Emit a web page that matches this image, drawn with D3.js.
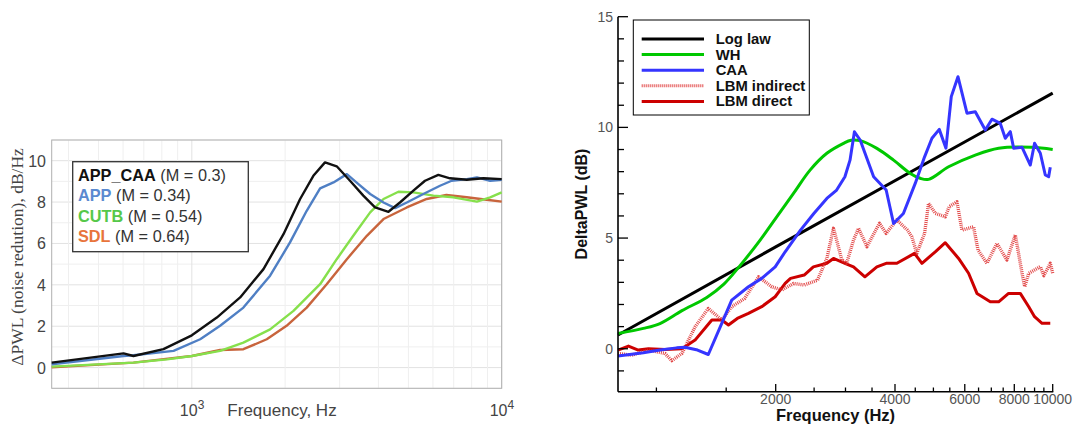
<!DOCTYPE html>
<html><head><meta charset="utf-8">
<script src="https://cdn.jsdelivr.net/npm/d3@7"></script>
<style>body{margin:0;background:#fff}svg{display:block}</style>
</head><body><svg id="c" width="1075" height="425"></svg>
<script>
// ---------- LEFT PANEL DATA ----------
const leftNames = ["APP_CAA", "APP", "CUTB", "SDL"];
const leftMach = ["(M = 0.3)", "(M = 0.34)", "(M = 0.54)", "(M = 0.64)"];
const appCaa = [[353,0.24],[602,0.69],[648,0.56],[810,0.89],[1000,1.56],[1204,2.42],[1432,3.39],[1703,4.76],[1976,6.45],[2236,8.15],[2467,9.27],[2690,9.92],[2935,9.73],[3240,9.03],[3576,8.31],[3902,7.74],[4310,7.53],[4695,7.98],[5188,8.55],[5656,9.03],[6245,9.31],[6810,9.15],[7714,9.08],[8733,9.15],[10000,9.11]];
const app = [[353,0.16],[602,0.56],[648,0.6],[873,0.81],[1064,1.37],[1234,2.02],[1467,2.9],[1789,4.44],[2074,6.05],[2348,7.58],[2594,8.66],[2865,8.95],[3164,9.35],[3449,8.87],[3763,8.39],[4155,7.98],[4530,7.71],[4940,7.98],[5587,8.39],[6323,8.79],[6894,9.03],[7714,9.11],[8316,9.19],[9179,9.03],[10000,9.08]];
const cutb = [[353,0.05],[648,0.24],[831,0.4],[1000,0.56],[1234,0.81],[1467,1.21],[1789,1.85],[2128,2.74],[2594,4.03],[2935,5.24],[3319,6.37],[3763,7.5],[4155,8.15],[4643,8.5],[5188,8.47],[6019,8.31],[6980,8.23],[8316,8.02],[9179,8.23],[10000,8.47]];
const sdl = [[353,0.02],[648,0.24],[1000,0.56],[1234,0.85],[1467,0.89],[1745,1.37],[2022,2.02],[2348,2.9],[2724,4.03],[3164,5.24],[3671,6.37],[4155,7.18],[4940,7.74],[5728,8.15],[6629,8.34],[7714,8.23],[8940,8.11],[10000,8.02]];
const leftYTicks = [0, 2, 4, 6, 8, 10];
const leftXTicks = [1000, 10000];

// ---------- RIGHT PANEL DATA ----------
const rightNames = ["Log law", "WH", "CAA", "LBM indirect", "LBM direct"];
const logLaw = [[800,0.62],[2000,4.6],[10000,11.55]];
const wh = [[800,0.69],[927,0.92],[1021,1.14],[1160,1.72],[1340,2.32],[1480,2.92],[1620,3.72],[1827,4.91],[2012,5.96],[2218,7.02],[2442,8.07],[2692,8.83],[2966,9.28],[3100,9.42],[3267,9.4],[3600,9.05],[3967,8.52],[4371,7.92],[4630,7.7],[4861,7.65],[5462,8.22],[6378,8.75],[7305,9.06],[8866,9.1],[10000,9.0]];
const caa = [[800,-0.33],[927,-0.18],[1021,-0.06],[1125,0.04],[1180,0.07],[1270,-0.06],[1352,-0.26],[1462,1.15],[1549,2.2],[1707,2.8],[1844,3.18],[1994,3.7],[2113,4.38],[2310,5.36],[2496,6.11],[2692,6.79],[2850,7.17],[2990,7.77],[3080,8.52],[3160,9.8],[3267,9.43],[3533,7.77],[3800,7.17],[3967,5.66],[4200,6.11],[4499,7.47],[4750,8.67],[4958,9.51],[5173,9.91],[5378,9.06],[5547,11.39],[5767,12.29],[6077,10.64],[6378,10.71],[6759,9.88],[7026,10.37],[7375,10.18],[7592,9.51],[7816,9.81],[7970,9.06],[8370,9.1],[8780,8.3],[9000,9.28],[9306,8.83],[9578,7.85],[9768,7.77],[9860,8.2]];
const lbmIndirect = [[800,-0.21],[866,-0.29],[955,-0.06],[1051,-0.21],[1093,-0.54],[1160,-0.21],[1252,0.99],[1352,1.82],[1462,1.3],[1549,1.9],[1670,2.27],[1810,3.25],[1955,2.8],[2073,2.65],[2218,2.95],[2360,2.88],[2550,3.1],[2692,4.08],[2798,5.44],[2937,4.01],[3020,3.86],[3143,4.91],[3237,5.44],[3398,4.61],[3656,5.67],[3800,5.21],[4043,5.82],[4300,5.36],[4411,5.06],[4540,4.31],[4750,5.21],[4861,6.57],[5054,6.12],[5357,5.96],[5480,6.42],[5733,6.64],[5903,5.36],[6313,5.51],[6480,4.46],[6824,3.86],[7233,4.76],[7665,4.01],[8046,5.14],[8370,3.41],[8500,2.8],[8700,3.41],[9306,3.71],[9500,3.3],[9860,3.86],[10000,3.41]];
const lbmDirect = [[800,-0.06],[850,0.12],[900,-0.06],[955,0.0],[1051,-0.03],[1160,0.0],[1252,0.39],[1380,1.3],[1462,1.3],[1520,1.07],[1600,1.37],[1707,1.6],[1844,1.9],[1994,2.35],[2113,2.95],[2180,3.18],[2360,3.33],[2489,3.7],[2692,3.86],[2798,4.08],[2990,3.86],[3143,3.7],[3358,3.25],[3600,3.7],[3800,3.86],[4043,3.86],[4480,4.31],[4678,3.86],[5054,4.38],[5357,4.79],[5788,4.08],[6134,3.41],[6440,2.5],[6958,2.12],[7305,2.12],[7738,2.5],[8283,2.5],[8700,1.9],[9000,1.45],[9400,1.15],[9860,1.15]];
const rightYTicks = [0, 5, 10, 15];
const rightXTicks = [2000, 4000, 6000, 8000, 10000];

// ---------- DRAW ----------
const svg = d3.select("#c");
const sans = "Arial, 'Liberation Sans', Helvetica, sans-serif";

// LEFT
const xL = d3.scaleLog().domain([353, 10000]).range([51.7, 501.7]);
const yL = d3.scaleLinear().domain([-1, 11]).range([388.3, 140]);
const gL = svg.append("g");
gL.append("rect").attr("x", 51.7).attr("y", 140).attr("width", 450).attr("height", 248.3).attr("fill", "#fff");
const gridY = d3.range(-1, 12, 1);
gL.selectAll(".gy").data(gridY).join("line")
  .attr("x1", 51.7).attr("x2", 501.7).attr("y1", d => yL(d)).attr("y2", d => yL(d))
  .attr("stroke", d => d % 2 === 0 ? "#e2e2e2" : "#efefef").attr("stroke-width", 1);
const gridX = d3.range(400, 1000, 100).concat(d3.range(1000, 10001, 1000));
gL.selectAll(".gx").data(gridX).join("line")
  .attr("x1", d => xL(d)).attr("x2", d => xL(d)).attr("y1", 140).attr("y2", 388.3)
  .attr("stroke", d => (d === 1000 || d === 10000) ? "#e2e2e2" : "#efefef").attr("stroke-width", 1);
gL.append("rect").attr("x", 51.7).attr("y", 140).attr("width", 450).attr("height", 248.3)
  .attr("fill", "none").attr("stroke", "#b0b0b0").attr("stroke-width", 1);

const lineL = d3.line().x(d => xL(d[0])).y(d => yL(d[1]));
const leftSeries = [appCaa, app, cutb, sdl];
const leftColors = ["#111111", "#4f7fc4", "#86e04c", "#c8643c"];
const leftText = ["#111111", "#5b8ad0", "#55c84a", "#e8743c"];
[3, 2, 1, 0].forEach(i => {
  gL.append("path").attr("d", lineL(leftSeries[i])).attr("fill", "none")
    .attr("stroke", leftColors[i]).attr("stroke-width", 2.4).attr("stroke-linejoin", "round");
});
gL.selectAll(".ytl").data(leftYTicks).join("text")
  .attr("x", 46).attr("y", d => yL(d) + 6).attr("text-anchor", "end")
  .attr("font-family", sans).attr("font-size", 16).attr("fill", "#444").text(d => d);
leftXTicks.forEach(t => {
  const tx = gL.append("text").attr("x", xL(t) - 12).attr("y", 416)
    .attr("font-family", sans).attr("font-size", 16).attr("fill", "#444");
  tx.append("tspan").text("10");
  tx.append("tspan").attr("dy", -7).attr("font-size", 12).text(String(Math.round(Math.log10(t))));
});
gL.append("text").attr("x", 282).attr("y", 416).attr("text-anchor", "middle")
  .attr("font-family", sans).attr("font-size", 17).attr("fill", "#444").text("Frequency, Hz");
gL.append("text").attr("transform", "translate(23,257) rotate(-90)").attr("text-anchor", "middle")
  .attr("font-family", "'Liberation Serif', 'DejaVu Serif', serif").attr("font-size", 17.5).attr("fill", "#444")
  .text("ΔPWL (noise redution), dB/Hz");
// left legend
gL.append("rect").attr("x", 72.7).attr("y", 161.7).attr("width", 175.6).attr("height", 90)
  .attr("fill", "#fff").attr("stroke", "#333").attr("stroke-width", 1.3);
leftNames.forEach((n, i) => {
  const t = gL.append("text").attr("x", 78).attr("y", 180.5 + i * 20.5)
    .attr("font-family", sans).attr("font-size", 16.3);
  t.append("tspan").attr("font-weight", "bold").attr("fill", leftText[i]).text(n);
  t.append("tspan").attr("fill", "#333").text(" " + leftMach[i]);
});

// RIGHT
const xR = d3.scaleLog().domain([800, 10000]).range([618, 1052.7]);
const yR = d3.scaleLinear().domain([-1.94, 15]).range([391.7, 16.7]);
const gR = svg.append("g");
const lineR = d3.line().x(d => xR(d[0])).y(d => yR(d[1]));
const lineRs = d3.line().x(d => xR(d[0])).y(d => yR(d[1])).curve(d3.curveCatmullRom);
const rightColors = ["#000000", "#00c800", "#3535ff", "#dd2a2a", "#cc0000"];
const rightSeries = [logLaw, wh, caa, lbmIndirect, lbmDirect];
const dashes = [null, null, null, "1,1", null];
const draw = [0, 1, 4, 3, 2];
draw.forEach(i => {
  gR.append("path").attr("d", (i === 1 ? lineRs : lineR)(rightSeries[i])).attr("fill", "none")
    .attr("stroke", rightColors[i]).attr("stroke-width", i === 3 ? 3.4 : 3)
    .attr("stroke-opacity", i === 3 ? 0.85 : 1)
    .attr("stroke-dasharray", dashes[i]).attr("stroke-linejoin", "round");
});
// axes
gR.append("line").attr("x1", 618).attr("x2", 618).attr("y1", 16.7).attr("y2", 391.7).attr("stroke", "#000").attr("stroke-width", 1.6);
gR.append("line").attr("x1", 618).attr("x2", 1053.3).attr("y1", 391.7).attr("y2", 391.7).attr("stroke", "#000").attr("stroke-width", 1.6);
const yMinor = d3.range(-1, 16, 1);
gR.selectAll(".ymt").data(yMinor).join("line")
  .attr("x1", 618).attr("x2", d => rightYTicks.includes(d) ? 628 : 624)
  .attr("y1", d => yR(d)).attr("y2", d => yR(d)).attr("stroke", "#000").attr("stroke-width", 1.3);
const xMinor = d3.range(1000, 10001, 500);
gR.selectAll(".xmt").data(xMinor).join("line")
  .attr("x1", d => xR(d)).attr("x2", d => xR(d))
  .attr("y1", 391.7).attr("y2", d => rightXTicks.includes(d) ? 384 : 387.5)
  .attr("stroke", "#000").attr("stroke-width", 1.3);
gR.selectAll(".ytr").data(rightYTicks).join("text")
  .attr("x", 613).attr("y", d => yR(d) + 5).attr("text-anchor", "end")
  .attr("font-family", sans).attr("font-size", 14).attr("fill", "#555").text(d => d);
gR.selectAll(".xtr").data(rightXTicks).join("text")
  .attr("x", d => xR(d)).attr("y", 403.5).attr("text-anchor", "middle")
  .attr("font-family", sans).attr("font-size", 14).attr("fill", "#555").text(d => d);
gR.append("text").attr("x", 835.5).attr("y", 420.5).attr("text-anchor", "middle")
  .attr("font-family", sans).attr("font-size", 16.5).attr("font-weight", "bold").attr("fill", "#111").text("Frequency (Hz)");
gR.append("text").attr("transform", "translate(587,204) rotate(-90)").attr("text-anchor", "middle")
  .attr("font-family", sans).attr("font-size", 16).attr("font-weight", "bold").attr("fill", "#111").text("DeltaPWL (dB)");
// right legend
gR.append("rect").attr("x", 633.3).attr("y", 20).attr("width", 176).attr("height", 95)
  .attr("fill", "#fff").attr("stroke", "#000").attr("stroke-width", 1);
rightNames.forEach((n, i) => {
  const yy = 39 + i * 15.6;
  gR.append("line").attr("x1", 641.7).attr("x2", 704).attr("y1", yy).attr("y2", yy)
    .attr("stroke", rightColors[i]).attr("stroke-width", 3)
    .attr("stroke-opacity", i === 3 ? 0.85 : 1).attr("stroke-dasharray", dashes[i]);
  gR.append("text").attr("x", 715.7).attr("y", yy + 5).attr("font-family", sans)
    .attr("font-size", 14.8).attr("font-weight", "bold").attr("fill", "#111").text(n);
});
</script></body></html>
